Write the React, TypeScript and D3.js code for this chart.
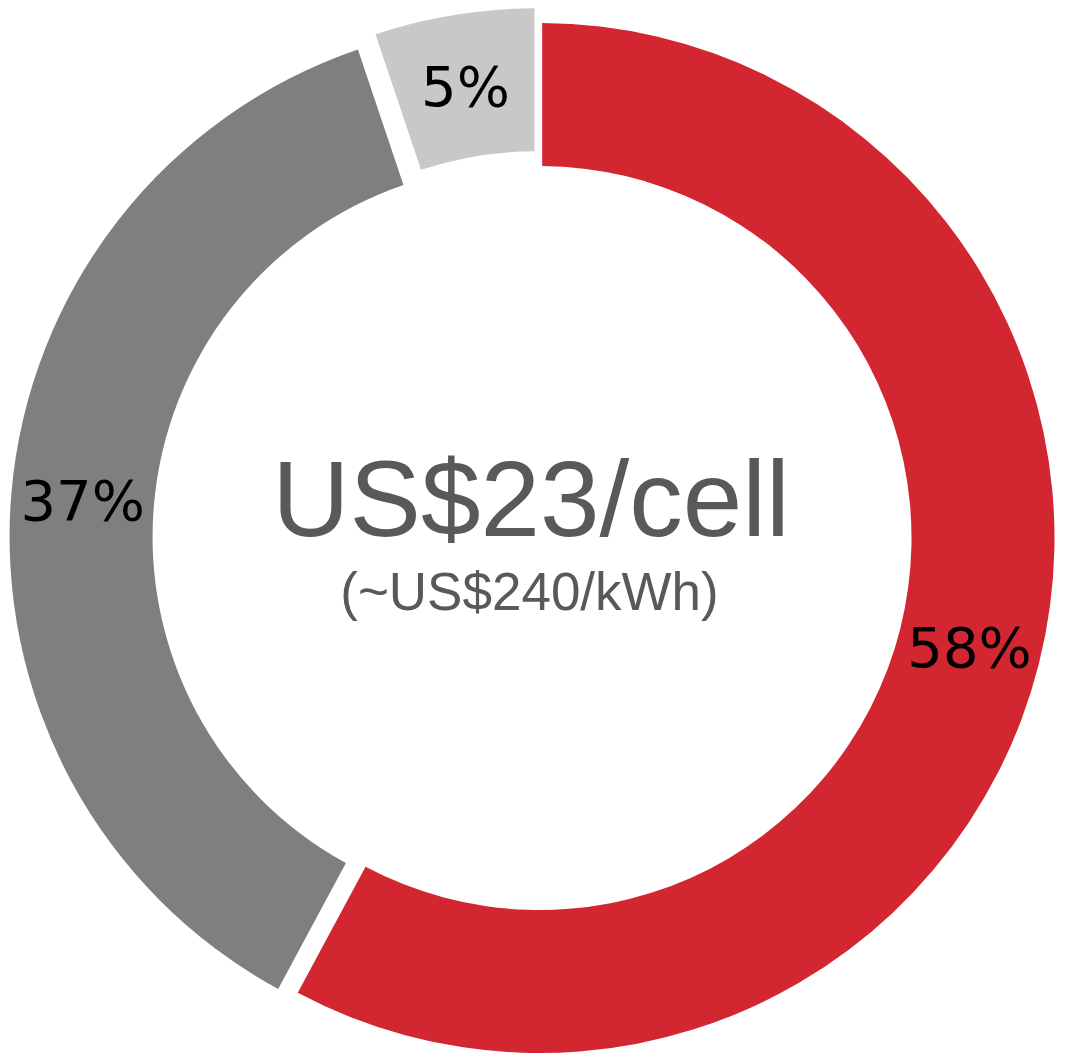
import React from "react";
import * as d3 from "d3";

const categories = ["Materials", "Other", "Overhead"];
const values = [58, 37, 5];
const labels = ["58%", "37%", "5%"];
const colors = ["#D22630", "#7F7F7F", "#C8C8C8"];
const exploded = [false, true, true];
const centerTitle = "US$23/cell";
const centerSubtitle = "(~US$240/kWh)";

const W = 1065;
const H = 1059;
const CX = 539.5;
const CY = 538;
const R_OUT = 515;
const R_IN = 372;
const EXPLODE = 15;
const LABEL_FS = 56;

export default function App() {
  const pie = d3
    .pie<number>()
    .sort(null)
    .startAngle(0)
    .endAngle(2 * Math.PI)
    .padAngle(0.012)
    .value((d) => d);
  const arcs = pie(values);
  const arc = d3
    .arc<d3.PieArcDatum<number>>()
    .innerRadius(R_IN)
    .outerRadius(R_OUT)
    .padRadius((R_IN + R_OUT) / 2);

  return (
    <svg
      width={W}
      height={H}
      style={{ position: "absolute", left: 0, top: 0, background: "#fff" }}
    >
      <g transform={`translate(${CX},${CY})`}>
        {arcs.map((a, i) => {
          const mid = (a.startAngle + a.endAngle) / 2;
          const off = exploded[i] ? EXPLODE : 0;
          const dx = Math.sin(mid) * off;
          const dy = -Math.cos(mid) * off;
          const [lx, ly] = arc.centroid(a);
          return (
            <g key={categories[i]} transform={`translate(${dx},${dy})`}>
              <path d={arc(a) || ""} fill={colors[i]} />
              <text
                x={lx}
                y={ly + LABEL_FS * 0.364}
                textAnchor="middle"
                fontFamily="DejaVu Sans"
                fontSize={LABEL_FS}
                fill="#000"
              >
                {labels[i]}
              </text>
            </g>
          );
        })}
      </g>
      <text
        x={531}
        y={536}
        textAnchor="middle"
        fontFamily="Liberation Sans, Arial, sans-serif"
        fontSize={107}
        fill="#595959"
      >
        {centerTitle}
      </text>
      <text
        x={529.5}
        y={610}
        textAnchor="middle"
        fontFamily="Liberation Sans, Arial, sans-serif"
        fontSize={53}
        fill="#595959"
      >
        {centerSubtitle}
      </text>
    </svg>
  );
}
